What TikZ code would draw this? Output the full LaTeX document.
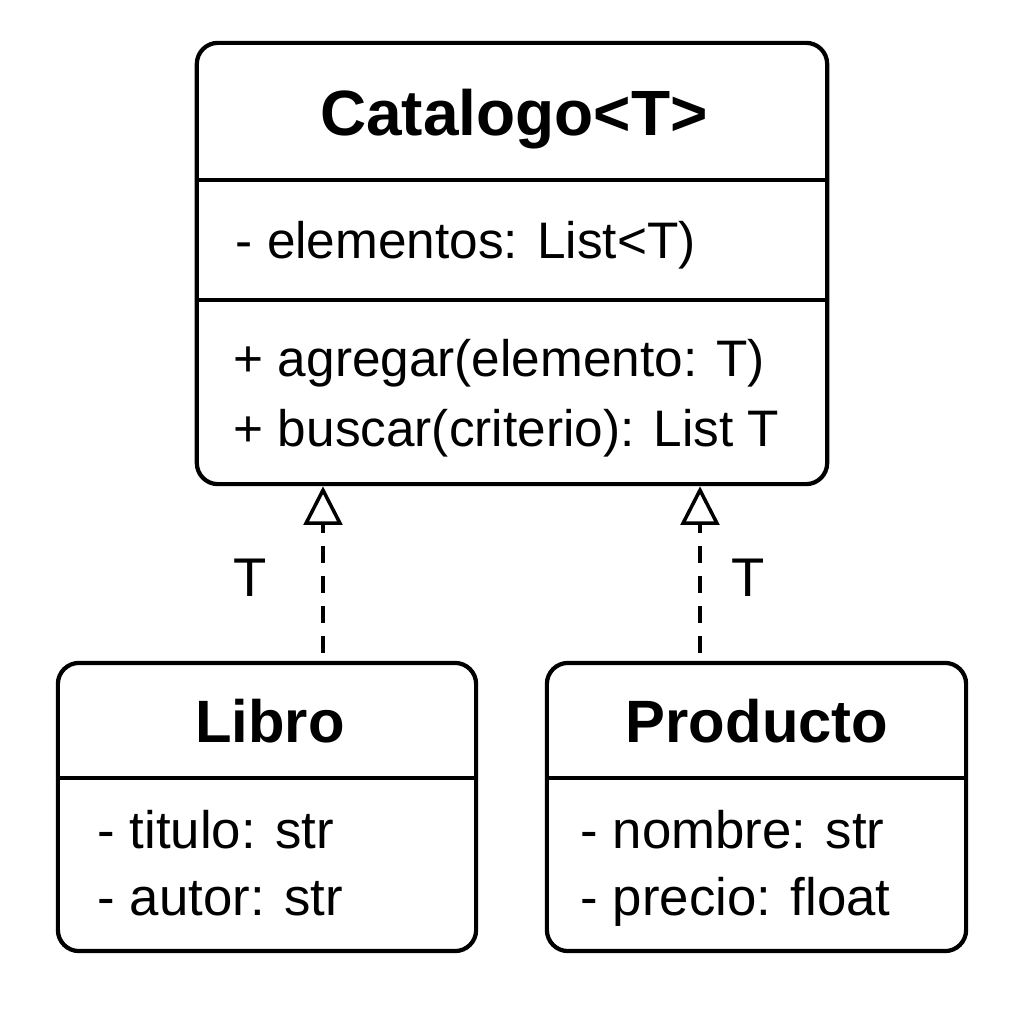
\documentclass[tikz,border=0pt]{standalone}
\usepackage{fontspec}
\setmainfont{Liberation Sans}
\usetikzlibrary{arrows.meta}

\tikzset{
	classbox/.style={draw, line width=1.2pt, rounded corners=6pt, inner sep=0pt},
	classline/.style={line width=1.2pt},
	classname/.style={anchor=base, inner sep=0pt, font=\bfseries\fontsize{17}{20}\selectfont},
	member/.style={anchor=base west, inner sep=0pt, font=\fontsize{15}{18}\selectfont},
	realize/.style={line width=1pt, dash pattern=on 4.8pt off 3.7pt, shorten <=2.3pt,
		-{Triangle[open, length=11pt, width=11pt]}},
	param/.style={anchor=base, inner sep=0pt, font=\fontsize{15.5}{18}\selectfont}
}

\begin{document}
\begin{tikzpicture}[x=0.01cm, y=-0.01cm]
	\useasboundingbox (0,0) rectangle (1024,1024);
	
	% generic class
	\node[classbox, minimum width=6.3cm, minimum height=4.41cm] (catalogo) at (512,263.5) {};
	\draw[classline] (catalogo.west |- 0,180) -- (catalogo.east |- 0,180);
	\draw[classline] (catalogo.west |- 0,300) -- (catalogo.east |- 0,300);
	\node[classname, font=\bfseries\fontsize{18.2}{22}\selectfont] (catname) at (514,135) {Catalogo<T>};
	\node[member, font=\fontsize{14.6}{18}\selectfont] (elementos) at (235,258) {- elementos: List<T)};
	\node[member, font=\fontsize{14.6}{18}\selectfont] (agregar) at (233,376) {+ agregar(elemento: T)};
	\node[member, font=\fontsize{14.6}{18}\selectfont] (buscar) at (233,446) {+ buscar(criterio): List T};
	
	% bound classes
	\node[classbox, minimum width=4.18cm, minimum height=2.88cm] (libro) at (267,807) {};
	\node[classbox, minimum width=4.19cm, minimum height=2.88cm] (producto) at (756.5,807) {};
	\foreach \cls in {libro, producto}
	\draw[classline] (\cls.west |- 0,778) -- (\cls.east |- 0,778);
	
	\node[classname] (libroname) at (270,742) {Libro};
	\node[member] (titulo) at (97,848) {- titulo: str};
	\node[member] (autor) at (97,915) {- autor: str};
	
	\node[classname] (productoname) at (757,742) {Producto};
	\node[member] (nombre) at (580,848) {- nombre: str};
	\node[member] (precio) at (580,915) {- precio: float};
	
	% realizations
	\foreach \x/\cls in {323/libro, 700/producto}
	\draw[realize] (\cls.north -| \x,0) -- (catalogo.south -| \x,0);
	
	\node[param] (tlibro) at (250,596) {T};
	\node[param] (tproducto) at (748,596) {T};
\end{tikzpicture}
\end{document}
